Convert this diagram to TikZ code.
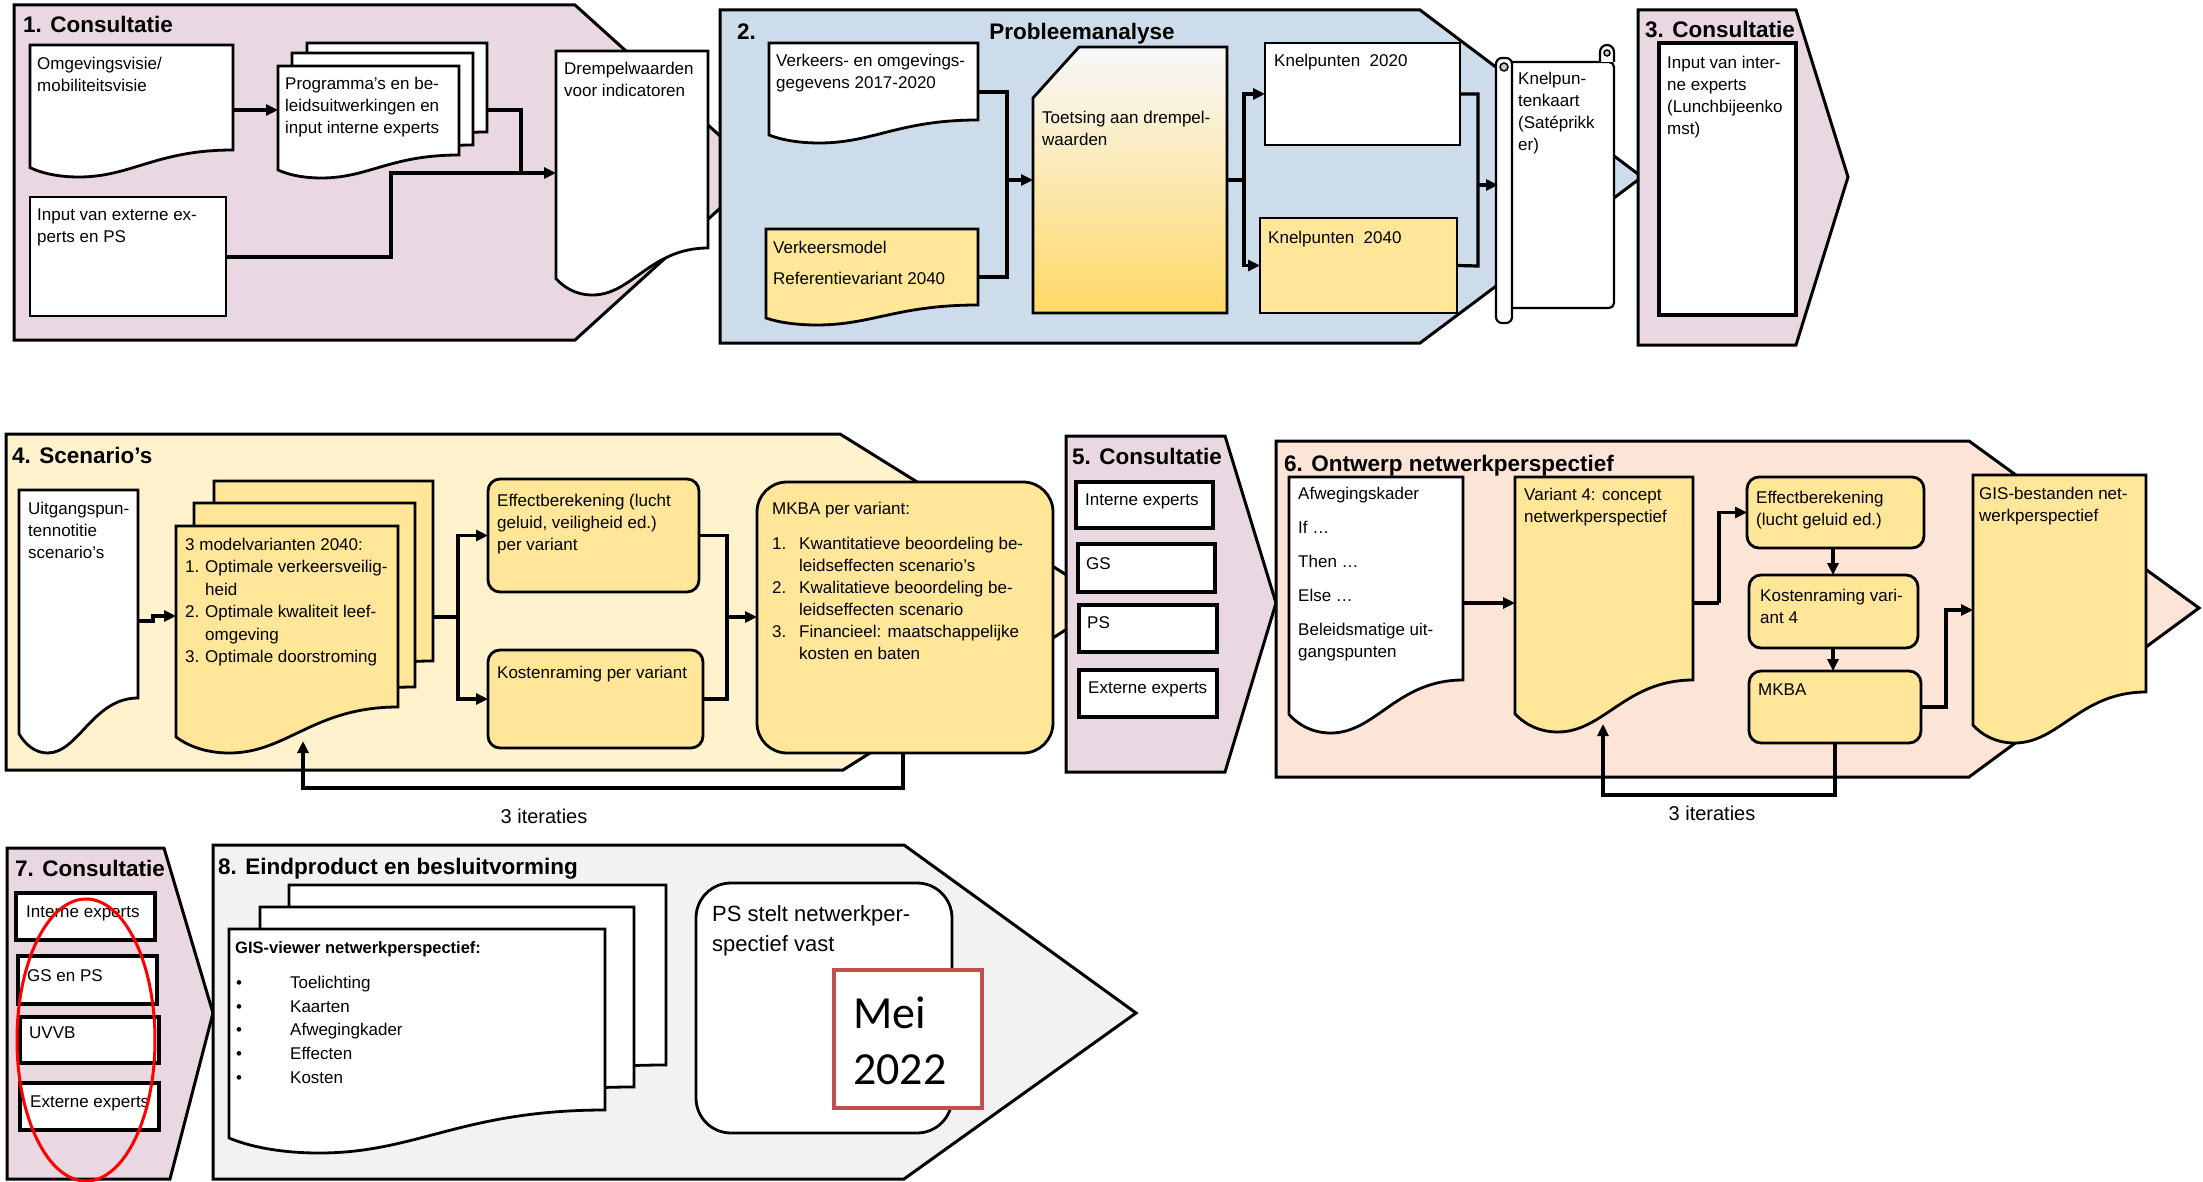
\documentclass[tikz,border=0pt]{standalone}
\usepackage{fontspec}
\setmainfont{Liberation Sans}
\newfontfamily\calfont{Carlito}
\usetikzlibrary{arrows.meta,calc}
\definecolor{pinkc}{RGB}{233,215,225}
\definecolor{bluec}{RGB}{204,220,234}
\definecolor{creamc}{RGB}{255,242,204}
\definecolor{salmonc}{RGB}{252,228,214}
\definecolor{grayc}{RGB}{242,242,242}
\definecolor{yelc}{RGB}{255,230,153}
\definecolor{gradc}{RGB}{255,217,102}
\definecolor{gradt}{RGB}{248,248,250}
\definecolor{maired}{RGB}{192,80,77}
\tikzset{
 panel/.style={draw=black, line width=3pt},
 box/.style={draw=black, line width=2.8pt},
 tbox/.style={draw=black, line width=4pt, fill=white},
 anc/.style={inner sep=0pt, outer sep=0pt, anchor=north west},
 txt/.style={anchor=north west, inner sep=0pt, align=left, font=\fontsize{17}{22}\selectfont},
 ttl/.style={anchor=base west, inner sep=0pt, font=\fontsize{22.5}{26}\selectfont\bfseries},
 ln/.style={line width=3.2pt},
 arr/.style={line width=3.2pt, -{Triangle[length=12pt,width=11pt]}},
 lbl/.style={inner sep=0pt, font=\fontsize{20}{24}\selectfont},
}
% name, x, y, w, h, d, fill
\newcommand{\docsh}[7]{%
  \node[anc, minimum width=#4pt, minimum height=#5pt] (#1) at (#2,#3) {};
  \draw[box, fill=#7] (#2,#3) -- ({#2+#4},#3) -- ({#2+#4},{#3+#5})
    .. controls ({#2+0.62*#4},{#3+#5}) and ({#2+0.5*#4},{#3+#5+#6}) .. ({#2+0.24*#4},{#3+#5+#6})
    .. controls ({#2+0.12*#4},{#3+#5+#6}) and ({#2+0.04*#4},{#3+#5+0.8*#6}) .. (#2,{#3+#5+0.65*#6}) -- cycle;
}
\begin{document}
\begin{tikzpicture}[x=1pt,y=-1pt]
\useasboundingbox (0,0) rectangle (2203,1182);
\fill[white] (0,0) rectangle (2203,1182);

% ================= Panel 1
\draw[panel, fill=pinkc] (14,5) -- (575,5) -- (760,172) -- (575,340) -- (14,340) -- cycle;
\node[ttl] (t1) at (23,33) {1. Consultatie};
\docsh{A}{30}{45}{203}{105}{27}{white}
\node[txt] (At) at (37,57) {Omgevingsvisie/\\mobiliteitsvisie};
\docsh{B1}{307}{43}{180}{89}{20}{white}
\docsh{B2}{292}{53}{181}{92}{20}{white}
\docsh{B3}{278}{66}{181}{89}{23}{white}
\node[txt] (Bt) at (285,77) {Programma's en be-\\leidsuitwerkingen en\\input interne experts};
\node[box, fill=white, anc, minimum width=196pt, minimum height=119pt] (C) at (30,197) {};
\node[txt] (Ct) at (37,209) {Input van externe ex-\\perts en PS};
\docsh{D}{556}{51}{152}{197}{47}{white}
\node[txt] (Dt) at (564,62) {Drempelwaarden\\voor indicatoren};
\draw[arr] (A.east |- 0,110) -- (B3.west |- 0,110);
\draw[ln] (B1.east |- 0,110) -- (521,110) -- (521,173);
\draw[ln] (C.east |- 0,257) -- (391,257) -- (391,173) -- (521,173);
\draw[arr] (391,173) -- (D.west |- 0,173);

% ================= Panel 2
\draw[panel, fill=bluec] (720,10) -- (1420,10) -- (1642,177) -- (1420,343) -- (720,343) -- cycle;
\node[ttl] (t2) at (737,40) {2.};
\node[ttl, anchor=base] (t2b) at (1082,40) {Probleemanalyse};
\docsh{E}{769}{43}{209}{77}{23}{white}
\node[txt] (Et) at (776,54) {Verkeers- en omgevings-\\gegevens 2017-2020};
\docsh{F}{766}{229}{212}{76}{20}{yelc}
\node[txt] (Ft) at (773,241) {Verkeersmodel\\[9pt]Referentievariant 2040};
\node[anc, minimum width=194pt, minimum height=266pt] (G) at (1033,47) {};
\draw[box, top color=gradt, bottom color=gradc] (1079,47) -- (1227,47) -- (1227,313) -- (1033,313) -- (1033,98) -- cycle;
\node[txt] (Gt) at (1042,111) {Toetsing aan drempel-\\waarden};
\node[box, fill=white, anc, minimum width=195pt, minimum height=102pt] (H) at (1265,43) {};
\node[txt] (Ht) at (1274,54) {Knelpunten\ \ 2020};
\node[box, fill=yelc, anc, minimum width=197pt, minimum height=95pt] (I) at (1260,218) {};
\node[txt] (It) at (1268,231) {Knelpunten\ \ 2040};
\draw[ln] (E.east |- 0,92) -- (1007,92) -- (1007,277) -- (F.east |- 0,277);
\draw[arr] (1007,180) -- (G.west);
\draw[ln] (G.east) -- (1244,180);
\draw[arr] (1244,180) |- (H.west);
\draw[arr] (1244,180) |- (I.west);
\draw[ln] (H.east) -| (1478,266) -- (I.east);

% ================= Panel 3
\draw[panel, fill=pinkc] (1638,10) -- (1796,10) -- (1848,177) -- (1796,345) -- (1638,345) -- cycle;
\node[ttl] (t3) at (1645,38) {3. Consultatie};
\node[tbox, anc, minimum width=137pt, minimum height=272pt] (K) at (1659,43) {};
\node[txt] (Kt) at (1667,56) {Input van inter-\\ne experts\\(Lunchbijeenko\\mst)};

% ================= Scroll
\node[anc, minimum width=116pt, minimum height=262pt] (J) at (1498,60) {};
\draw[line width=2.2pt, fill=white, rounded corners=5pt] (1505,62) -- (1614,62) -- (1614,308) -- (1505,308);
\draw[line width=2.2pt, fill=white] (1600,62) -- (1600,52) arc[start angle=180, end angle=360, radius=7] -- (1614,62);
\draw[line width=1.5pt, fill=gray!40] (1607,53) circle[radius=3];
\draw[line width=2.2pt, fill=white, rounded corners=6pt] (1496,58) rectangle (1512,323);
\draw[line width=1.5pt, fill=gray!40] (1504,67) circle[radius=4];
\node[txt] (Jt) at (1518,72) {Knelpun-\\tenkaart\\(Satéprikk\\er)};
\draw[arr] (1478,185) -- (J.west |- 0,185);

% ================= Panel 4
\draw[panel, fill=creamc] (6,434) -- (840,434) -- (1110,602) -- (843,770) -- (6,770) -- cycle;
\node[ttl] (t4) at (12,463) {4. Scenario’s};
\docsh{L}{19}{490}{119}{208}{55}{white}
\node[txt] (Lt) at (28,502) {Uitgangspun-\\tennotitie\\scenario's};
\docsh{M1}{214}{481}{219}{180}{25}{yelc}
\docsh{M2}{194}{503}{221}{184}{25}{yelc}
\docsh{M3}{176}{526}{222}{181}{46}{yelc}
\node[txt, font=\fontsize{17}{22.4}\selectfont] (Mt) at (185,538) {3 modelvarianten 2040:\\
\makebox[20pt][l]{1.}Optimale verkeersveilig-\\
\hspace*{20pt}heid\\
\makebox[20pt][l]{2.}Optimale kwaliteit leef-\\
\hspace*{20pt}omgeving\\
\makebox[20pt][l]{3.}Optimale doorstroming};
\node[box, fill=yelc, anc, rounded corners=12pt, minimum width=211pt, minimum height=113pt] (N) at (488,479) {};
\node[txt] (Nt) at (497,494) {Effectberekening (lucht\\geluid, veiligheid ed.)\\per variant};
\node[box, fill=yelc, anc, rounded corners=12pt, minimum width=215pt, minimum height=98pt] (O) at (488,650) {};
\node[txt] (Ot) at (497,666) {Kostenraming per variant};
\node[box, fill=yelc, anc, rounded corners=30pt, minimum width=296pt, minimum height=271pt] (P) at (757,482) {};
\node[txt] (Pt) at (772,502) {MKBA per variant:\\[13pt]
\makebox[27pt][l]{1.}Kwantitatieve beoordeling be-\\
\hspace*{27pt}leidseffecten scenario's\\
\makebox[27pt][l]{2.}Kwalitatieve beoordeling be-\\
\hspace*{27pt}leidseffecten scenario\\
\makebox[27pt][l]{3.}Financieel: maatschappelijke\\
\hspace*{27pt}kosten en baten};
\draw[arr] (L.east |- 0,621) -| (153,616) -- (M3.west |- 0,616);
\draw[ln] (M1.east |- 0,617) -- (458,617);
\draw[arr] (458,617) |- (N.west);
\draw[arr] (458,617) |- (O.west);
\draw[ln] (N.east) -| (727,699) -- (O.east);
\draw[arr] (727,617) -- (P.west |- 0,617);
\draw[arr] (P.south -| 903,0) -- (903,788) -| (303,741);
\node[lbl] (it1) at (544,816) {3 iteraties};

% ================= Panel 5
\draw[panel, fill=pinkc] (1066,436) -- (1225,436) -- (1276,603) -- (1225,772) -- (1066,772) -- cycle;
\node[ttl] (t5) at (1072,464) {5. Consultatie};
\node[tbox, anc, minimum width=137pt, minimum height=46pt] (I5) at (1076,482) {};
\node[txt] (I5t) at (1085,494) {Interne experts};
\node[tbox, anc, minimum width=137pt, minimum height=48pt] (G5) at (1078,544) {};
\node[txt] (G5t) at (1086,557) {GS};
\node[tbox, anc, minimum width=138pt, minimum height=47pt] (P5) at (1079,605) {};
\node[txt] (P5t) at (1087,616) {PS};
\node[tbox, anc, minimum width=138pt, minimum height=47pt] (E5) at (1079,670) {};
\node[txt] (E5t) at (1088,682) {Externe experts};

% ================= Panel 6
\draw[panel, fill=salmonc] (1276,441) -- (1969,441) -- (2199,608) -- (1969,777) -- (1276,777) -- cycle;
\node[ttl] (t6) at (1284,471) {6. Ontwerp netwerkperspectief};
\docsh{Q}{1289}{477}{174}{203}{53}{white}
\node[txt] (Qt) at (1298,487) {Afwegingskader\\[12pt]If \dots\\[12pt]Then \dots\\[12pt]Else \dots\\[12pt]Beleidsmatige uit-\\gangspunten};
\docsh{R}{1515}{477}{178}{203}{52}{yelc}
\node[txt] (Rt) at (1524,488) {Variant 4: concept\\netwerkperspectief};
\node[box, fill=yelc, anc, rounded corners=12pt, minimum width=177pt, minimum height=71pt] (S) at (1747,477) {};
\node[txt] (St) at (1756,491) {Effectberekening\\(lucht geluid ed.)};
\node[box, fill=yelc, anc, rounded corners=12pt, minimum width=169pt, minimum height=73pt] (T) at (1749,575) {};
\node[txt] (Tt) at (1760,589) {Kostenraming vari-\\ant 4};
\node[box, fill=yelc, anc, rounded corners=12pt, minimum width=172pt, minimum height=72pt] (U) at (1749,671) {};
\node[txt] (Ut) at (1758,684) {MKBA};
\docsh{V}{1973}{475}{173}{217}{51}{yelc}
\node[txt] (Vt) at (1979,487) {GIS-bestanden net-\\werkperspectief};
\draw[arr] (Q.east |- 0,603) -- (R.west |- 0,603);
\draw[ln] (R.east |- 0,603) -- (1719,603);
\draw[arr] (1719,603) |- (S.west);
\draw[arr] (S.south -| 1833,0) -- (T.north -| 1833,0);
\draw[arr] (T.south -| 1833,0) -- (U.north -| 1833,0);
\draw[arr] (U.east) -| (1946,610) -- (V.west |- 0,610);
\draw[arr] (U.south -| 1835,0) -- (1835,795) -| (1603,724);
\node[lbl] (it2) at (1712,813) {3 iteraties};

% ================= Panel 7
\draw[panel, fill=pinkc] (7,848) -- (164,848) -- (213,1013) -- (170,1179) -- (7,1179) -- cycle;
\node[ttl] (t7) at (15,876) {7. Consultatie};
\node[tbox, anc, minimum width=139pt, minimum height=47pt] (I7) at (16,893) {};
\node[txt] (I7t) at (26,906) {Interne experts};
\node[tbox, anc, minimum width=139pt, minimum height=48pt] (G7) at (18,956) {};
\node[txt] (G7t) at (27,969) {GS en PS};
\node[tbox, anc, minimum width=139pt, minimum height=46pt] (U7) at (20,1017) {};
\node[txt] (U7t) at (29,1027) {UVVB};
\node[tbox, anc, minimum width=139pt, minimum height=47pt] (E7) at (20,1083) {};
\node[txt] (E7t) at (30,1096) {Externe experts};

% ================= Panel 8
\draw[panel, fill=grayc] (213,845) -- (904,845) -- (1136,1013) -- (904,1179) -- (213,1179) -- cycle;
\node[ttl] (t8) at (218,874) {8. Eindproduct en besluitvorming};
\docsh{W1}{289}{885}{377}{180}{30}{white}
\docsh{W2}{260}{907}{374}{180}{30}{white}
\docsh{W3}{229}{929}{376}{181}{43}{white}
\node[txt, font=\fontsize{16.5}{20}\selectfont\bfseries] (Wt) at (235,941) {GIS-viewer netwerkperspectief:};
\node[txt, font=\fontsize{17}{23.7}\selectfont] (Wl) at (236,976) {%
\makebox[54pt][l]{\textbullet}Toelichting\\
\makebox[54pt][l]{\textbullet}Kaarten\\
\makebox[54pt][l]{\textbullet}Afwegingkader\\
\makebox[54pt][l]{\textbullet}Effecten\\
\makebox[54pt][l]{\textbullet}Kosten};
\node[box, fill=white, anc, rounded corners=35pt, minimum width=256pt, minimum height=250pt] (X) at (696,883) {};
\node[txt, font=\fontsize{22}{30}\selectfont] (Xt) at (712,905) {PS stelt netwerkper-\\spectief vast};
\node[draw=maired, line width=3.5pt, fill=white, anc, minimum width=148pt, minimum height=138pt] (Y) at (834,970) {};
\node[txt, font=\calfont\fontsize{46}{56}\selectfont] (Yt) at (853,997) {Mei\\2022};

% red ellipse
\draw[red, line width=3pt] (86,1040) ellipse[x radius=69, y radius=141];
\end{tikzpicture}
\end{document}
